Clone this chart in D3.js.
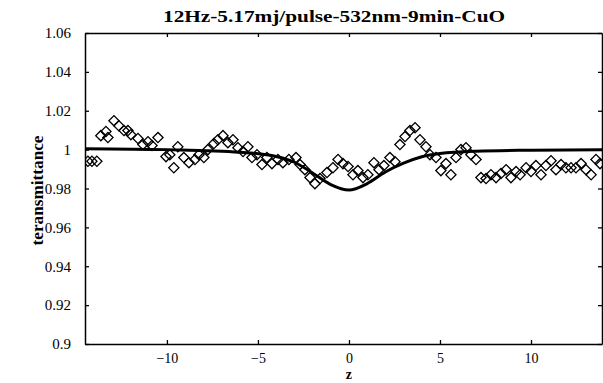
<!DOCTYPE html>
<html><head><meta charset="utf-8">
<script src="https://cdn.jsdelivr.net/npm/d3@7"></script>
<style>body{margin:0;background:#fff}svg{display:block}</style>
</head><body>
<script>
const title = "12Hz-5.17mj/pulse-532nm-9min-CuO";
const xLabel = "z";
const yLabel = "teransmittance";
const xTicks = [-10, -5, 0, 5, 10];
const yTicks = [0.9, 0.92, 0.94, 0.96, 0.98, 1.0, 1.02, 1.04, 1.06];
const xDomain = [-14.5, 13.9];
const yDomain = [0.9, 1.06];

const dataZ = [-14.34,-14.12,-13.85,-13.63,-13.35,-13.24,-12.91,-12.64,-12.36,-12.14,-11.98,-11.59,-11.32,-11.04,-10.82,-10.49,-10.05,-9.84,-9.62,-9.40,-9.07,-8.79,-8.46,-8.24,-7.97,-7.75,-7.42,-7.20,-6.92,-6.65,-6.37,-6.10,-5.82,-5.55,-5.33,-5.05,-4.78,-4.51,-4.23,-3.90,-3.63,-3.30,-2.91,-2.69,-2.42,-2.14,-1.87,-1.59,-1.21,-0.88,-0.60,-0.33,-0.05,0.22,0.49,0.77,1.04,1.37,1.65,1.92,2.25,2.53,2.80,3.08,3.35,3.63,3.90,4.23,4.45,4.78,5.05,5.33,5.60,5.88,6.15,6.43,6.70,6.98,7.25,7.53,7.80,8.08,8.35,8.63,8.90,9.18,9.40,9.73,10.0,10.27,10.55,10.82,11.10,11.37,11.65,11.92,12.20,12.47,12.75,13.02,13.30,13.57,13.79];
const dataT = [0.994,0.994,0.994,1.0072,1.0093,1.0062,1.0149,1.0123,1.0098,1.0098,1.0077,1.0057,1.0026,1.0041,1.0021,1.0062,0.9964,0.9974,0.9907,1.0015,0.9959,0.9933,0.9949,0.9974,0.9959,1.0,1.0031,1.0051,1.0072,1.0036,1.0051,1.001,0.999,1.0015,0.9959,0.9974,0.9923,0.9959,0.9928,0.9949,0.9933,0.9949,0.9959,0.9923,0.9897,0.9856,0.9825,0.9851,0.9882,0.9907,0.9949,0.9928,0.9913,0.9871,0.9892,0.9856,0.9871,0.9933,0.9897,0.9918,0.9959,0.9938,1.0026,1.0067,1.0098,1.0113,1.0051,1.0015,0.9974,0.9959,0.9892,0.9928,0.9871,0.9959,1.0,1.001,0.9974,0.9949,0.9856,0.9851,0.9871,0.9856,0.9877,0.9897,0.9856,0.9887,0.9871,0.9907,0.9887,0.9918,0.9871,0.9918,0.9943,0.9897,0.9923,0.9907,0.9907,0.9907,0.9928,0.9897,0.9871,0.9949,0.9928];

const fitZ = [-14.5,-10,-6,-4,-3,-2,-1,0,1,2,3,4,5,7,10,13.9];
const fitT = [1.0005,1.0,0.9987,0.9965,0.9935,0.988,0.982,0.9792,0.9825,0.9885,0.993,0.9963,0.998,0.9992,0.9997,1.0];

const W = 603, H = 383;
const m = {l:85, r:1, t:33, b:39};
const svg = d3.select("body").append("svg").attr("width", W).attr("height", H);
const x = d3.scaleLinear().domain(xDomain).range([m.l, W - m.r]);
const y = d3.scaleLinear().domain(yDomain).range([H - m.b, m.t]);
const font = "'Liberation Serif', 'Times New Roman', serif";

const defs = svg.append("defs");
defs.append("clipPath").attr("id","clip").append("rect")
  .attr("x", m.l).attr("y", m.t).attr("width", W - m.r - m.l).attr("height", H - m.b - m.t);

const plot = svg.append("g").attr("clip-path","url(#clip)");

const pts = dataZ.map((z,i)=>({z, t:dataT[i]}));
const sq = d3.symbol().type(d3.symbolSquare).size(52);
plot.selectAll("path.pt").data(pts).join("path").attr("class","pt")
  .attr("d", sq)
  .attr("transform", d => `translate(${x(d.z)},${y(d.t)}) rotate(45)`)
  .attr("fill","none").attr("stroke","#000").attr("stroke-width",1.3);

const fit = fitZ.map((z,i)=>({z, t:fitT[i]}));
plot.append("path").datum(fit)
  .attr("d", d3.line().x(d=>x(d.z)).y(d=>y(d.t)).curve(d3.curveMonotoneX))
  .attr("fill","none").attr("stroke","#000").attr("stroke-width",3);

// Axes
const xb = d3.axisBottom(x).tickValues(xTicks).tickSizeInner(-4).tickSizeOuter(0).tickPadding(9).tickFormat(d3.format("d"));
const gx = svg.append("g").attr("transform",`translate(0,${H-m.b})`).call(xb);
const xt = d3.axisTop(x).tickValues(xTicks).tickSizeInner(-4).tickSizeOuter(0).tickFormat("");
svg.append("g").attr("transform",`translate(0,${m.t})`).call(xt);
const yl = d3.axisLeft(y).tickValues(yTicks).tickSizeInner(-4).tickSizeOuter(0).tickPadding(14).tickFormat(d => d === 1 ? "1" : d3.format(".2~f")(d));
const gy = svg.append("g").attr("transform",`translate(${m.l},0)`).call(yl);
const yr = d3.axisRight(y).tickValues(yTicks).tickSizeInner(-4).tickSizeOuter(0).tickFormat("");
svg.append("g").attr("transform",`translate(${W-m.r},0)`).call(yr);

svg.selectAll(".domain").attr("stroke","#000").attr("stroke-width",1.5);
svg.selectAll(".tick line").attr("stroke","#000").attr("stroke-width",1.3);
svg.selectAll(".tick text").attr("font-family", font).attr("font-size", 14).attr("fill","#000");
gy.selectAll(".tick text").attr("font-size", 15);

svg.append("text").attr("x", 334).attr("y", 22).attr("text-anchor","middle")
  .attr("font-family", font).attr("font-weight","bold").attr("font-size",16)
  .attr("textLength", 342).attr("lengthAdjust","spacingAndGlyphs").text(title);

svg.append("text").attr("transform",`translate(43,${(m.t + H - m.b)/2 + 2}) rotate(-90)`)
  .attr("text-anchor","middle").attr("font-family", font).attr("font-weight","bold").attr("font-size",16)
  .attr("textLength", 110).attr("lengthAdjust","spacingAndGlyphs").text(yLabel);

svg.append("text").attr("x", x(0)).attr("y", 379).attr("text-anchor","middle")
  .attr("font-family", font).attr("font-weight","bold").attr("font-size",14).text(xLabel);
</script>
</body></html>
